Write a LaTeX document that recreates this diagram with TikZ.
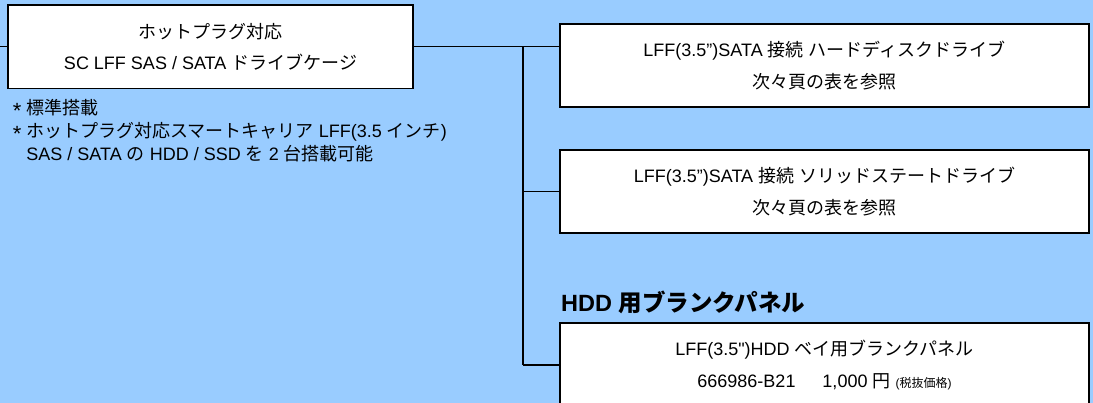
\documentclass[tikz,border=0pt]{standalone}
\usepackage{fontspec}
\setmainfont{Liberation Sans}
\newfontfamily\jpfont{Noto Sans CJK JP}
\newcommand{\ja}[1]{{\jpfont #1}}
\newcommand{\notemark}{\raisebox{-0.4ex}{\fontsize{22}{22}\selectfont *}\ }
\usetikzlibrary{positioning}
\definecolor{skyblue}{RGB}{153,204,255}
\tikzset{
  partbox/.style={draw=black, line width=1.6pt, fill=white, align=center, inner sep=0pt,
    minimum width=529pt, minimum height=83pt, font=\fontsize{18}{31.5}\selectfont},
  link/.style={line width=1.6pt},
  note/.style={anchor=west, align=left, inner sep=0pt, font=\fontsize{18}{23}\selectfont}
}

\begin{document}
\begin{tikzpicture}[x=1pt,y=-1pt]
            % Background
            \fill[skyblue] (0,0) rectangle (1093,403);
            \useasboundingbox (0,0) rectangle (1093,403);
            \clip (0,0) rectangle (1093,403);

            % Drive cage
            \node[partbox, minimum width=405pt, minimum height=83.7pt] (cage) at (210.5,46.85)
                {\ja{ホットプラグ対応}\\SC LFF SAS / SATA \ja{ドライブケージ}};
            \node[note] (cagenote) at (12.7,132)
                {\notemark\ja{標準搭載}\\\notemark\ja{ホットプラグ対応スマートキャリア} LFF(3.5 \ja{インチ})\\
                 \phantom{\notemark}SAS / SATA \ja{の} HDD / SSD \ja{を} 2 \ja{台搭載可能}};

            % Drives
            \node[partbox] (hdd) at (824.5,65.5)
                {LFF(3.5”)SATA \ja{接続}\ \ja{ハードディスクドライブ}\\\ja{次々頁の表を参照}};
            \node[partbox] (ssd) at (824.5,191.35)
                {LFF(3.5”)SATA \ja{接続}\ \ja{ソリッドステートドライブ}\\\ja{次々頁の表を参照}};

            % Blank panel
            \node[anchor=west, inner sep=0pt, font=\fontsize{23.5}{28}\selectfont\bfseries] (blankhead) at (561,302.5)
                {HDD \ja{用ブランクパネル}};
            \node[partbox, font=\fontsize{18}{32}\selectfont] (blank) at (824.5,364.8)
                {LFF(3.5\textquotedbl)HDD \ja{ベイ用ブランクパネル}\\
                 666986-B21\hspace{1.5em}1,000 \ja{円} {\fontsize{12}{14}\selectfont(\ja{税抜価格})}};

            % Connectors
            \coordinate (in) at (0,46.7);
            \coordinate (bus) at (523,46.7);
            \draw[link] (in) -- (cage.west |- in);
            \draw[link] (cage.east |- in) -- (hdd.west |- in);
            \draw[link] (bus) -- (bus |- blank.west);
            \draw[link] (bus |- ssd.west) -- (ssd.west);
            \draw[link] (bus |- blank.west) -- (blank.west);
\end{tikzpicture}
\end{document}
